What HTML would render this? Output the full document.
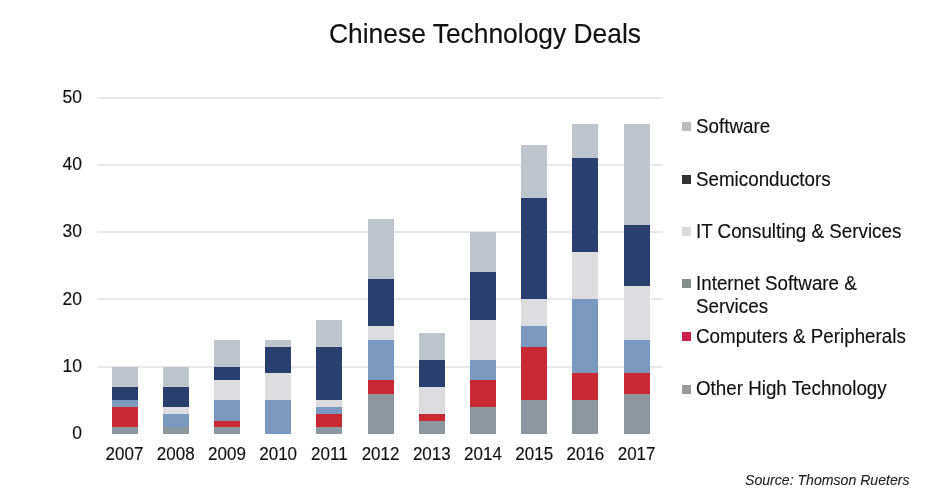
<!DOCTYPE html>
<html><head><meta charset="utf-8"><style>
html,body{margin:0;padding:0;background:#fff;}
#w{position:absolute;left:0;top:0;width:947px;height:501px;filter:blur(0.4px);}
body{width:947px;height:501px;position:relative;overflow:hidden;font-family:"Liberation Sans",sans-serif;color:#111;-webkit-text-stroke:0.15px #111;}
.t{position:absolute;left:329px;top:18px;font-size:26.4px;line-height:31px;white-space:nowrap;transform:scaleY(1.06);transform-origin:0 50%;}
.g{position:absolute;left:97px;width:566px;height:2px;background:#e9e9e9;}
.b{position:absolute;width:26.0px;}
.yr{position:absolute;top:443.8px;transform:scaleY(1.03);width:60px;text-align:center;font-size:17px;line-height:21px;}
.yl{position:absolute;left:40px;transform:scaleY(1.05);width:42px;text-align:right;font-size:17.5px;line-height:21px;}
.lsq{position:absolute;left:682px;width:9px;height:9px;}
.lt{position:absolute;left:696px;font-size:18.8px;line-height:21.7px;white-space:nowrap;transform:scaleY(1.04);transform-origin:0 0;}
.src{position:absolute;left:745px;top:472px;font-size:14.1px;line-height:16px;font-style:italic;white-space:nowrap;color:#222;-webkit-text-stroke:0.1px #222;}
</style></head><body><div id="w">
<div class="t">Chinese Technology Deals</div>
<div class="g" style="top:365.70px"></div>
<div class="g" style="top:298.40px"></div>
<div class="g" style="top:231.10px"></div>
<div class="g" style="top:163.80px"></div>
<div class="g" style="top:96.50px"></div>
<div class="b" style="left:111.54px;top:366.70px;height:67.30px;background:#bec5cc"></div>
<div class="b" style="left:111.54px;top:386.89px;height:47.11px;background:#2b3f6e"></div>
<div class="b" style="left:111.54px;top:400.35px;height:33.65px;background:#7b98bf"></div>
<div class="b" style="left:111.54px;top:407.08px;height:26.92px;background:#c72a32"></div>
<div class="b" style="left:111.54px;top:427.27px;height:6.73px;background:#8c979f"></div>
<div class="yr" style="left:94.54px">2007</div>
<div class="b" style="left:162.75px;top:366.70px;height:67.30px;background:#bec5cc"></div>
<div class="b" style="left:162.75px;top:386.89px;height:47.11px;background:#2b3f6e"></div>
<div class="b" style="left:162.75px;top:407.08px;height:26.92px;background:#dddcdf"></div>
<div class="b" style="left:162.75px;top:413.81px;height:20.19px;background:#7b98bf"></div>
<div class="b" style="left:162.75px;top:427.27px;height:6.73px;background:#8c979f"></div>
<div class="yr" style="left:145.75px">2008</div>
<div class="b" style="left:213.96px;top:339.78px;height:94.22px;background:#bec5cc"></div>
<div class="b" style="left:213.96px;top:366.70px;height:67.30px;background:#2b3f6e"></div>
<div class="b" style="left:213.96px;top:380.16px;height:53.84px;background:#dddcdf"></div>
<div class="b" style="left:213.96px;top:400.35px;height:33.65px;background:#7b98bf"></div>
<div class="b" style="left:213.96px;top:420.54px;height:13.46px;background:#c72a32"></div>
<div class="b" style="left:213.96px;top:427.27px;height:6.73px;background:#8c979f"></div>
<div class="yr" style="left:196.96px">2009</div>
<div class="b" style="left:265.17px;top:339.78px;height:94.22px;background:#bec5cc"></div>
<div class="b" style="left:265.17px;top:346.51px;height:87.49px;background:#2b3f6e"></div>
<div class="b" style="left:265.17px;top:373.43px;height:60.57px;background:#dddcdf"></div>
<div class="b" style="left:265.17px;top:400.35px;height:33.65px;background:#7b98bf"></div>
<div class="yr" style="left:248.17px">2010</div>
<div class="b" style="left:316.38px;top:319.59px;height:114.41px;background:#bec5cc"></div>
<div class="b" style="left:316.38px;top:346.51px;height:87.49px;background:#2b3f6e"></div>
<div class="b" style="left:316.38px;top:400.35px;height:33.65px;background:#dddcdf"></div>
<div class="b" style="left:316.38px;top:407.08px;height:26.92px;background:#7b98bf"></div>
<div class="b" style="left:316.38px;top:413.81px;height:20.19px;background:#c72a32"></div>
<div class="b" style="left:316.38px;top:427.27px;height:6.73px;background:#8c979f"></div>
<div class="yr" style="left:299.38px">2011</div>
<div class="b" style="left:367.59px;top:218.64px;height:215.36px;background:#bec5cc"></div>
<div class="b" style="left:367.59px;top:279.21px;height:154.79px;background:#2b3f6e"></div>
<div class="b" style="left:367.59px;top:326.32px;height:107.68px;background:#dddcdf"></div>
<div class="b" style="left:367.59px;top:339.78px;height:94.22px;background:#7b98bf"></div>
<div class="b" style="left:367.59px;top:380.16px;height:53.84px;background:#c72a32"></div>
<div class="b" style="left:367.59px;top:393.62px;height:40.38px;background:#8c979f"></div>
<div class="yr" style="left:350.59px">2012</div>
<div class="b" style="left:418.80px;top:333.05px;height:100.95px;background:#bec5cc"></div>
<div class="b" style="left:418.80px;top:359.97px;height:74.03px;background:#2b3f6e"></div>
<div class="b" style="left:418.80px;top:386.89px;height:47.11px;background:#dddcdf"></div>
<div class="b" style="left:418.80px;top:413.81px;height:20.19px;background:#c72a32"></div>
<div class="b" style="left:418.80px;top:420.54px;height:13.46px;background:#8c979f"></div>
<div class="yr" style="left:401.80px">2013</div>
<div class="b" style="left:470.01px;top:232.10px;height:201.90px;background:#bec5cc"></div>
<div class="b" style="left:470.01px;top:272.48px;height:161.52px;background:#2b3f6e"></div>
<div class="b" style="left:470.01px;top:319.59px;height:114.41px;background:#dddcdf"></div>
<div class="b" style="left:470.01px;top:359.97px;height:74.03px;background:#7b98bf"></div>
<div class="b" style="left:470.01px;top:380.16px;height:53.84px;background:#c72a32"></div>
<div class="b" style="left:470.01px;top:407.08px;height:26.92px;background:#8c979f"></div>
<div class="yr" style="left:453.01px">2014</div>
<div class="b" style="left:521.22px;top:144.61px;height:289.39px;background:#bec5cc"></div>
<div class="b" style="left:521.22px;top:198.45px;height:235.55px;background:#2b3f6e"></div>
<div class="b" style="left:521.22px;top:299.40px;height:134.60px;background:#dddcdf"></div>
<div class="b" style="left:521.22px;top:326.32px;height:107.68px;background:#7b98bf"></div>
<div class="b" style="left:521.22px;top:346.51px;height:87.49px;background:#c72a32"></div>
<div class="b" style="left:521.22px;top:400.35px;height:33.65px;background:#8c979f"></div>
<div class="yr" style="left:504.22px">2015</div>
<div class="b" style="left:572.43px;top:124.42px;height:309.58px;background:#bec5cc"></div>
<div class="b" style="left:572.43px;top:158.07px;height:275.93px;background:#2b3f6e"></div>
<div class="b" style="left:572.43px;top:252.29px;height:181.71px;background:#dddcdf"></div>
<div class="b" style="left:572.43px;top:299.40px;height:134.60px;background:#7b98bf"></div>
<div class="b" style="left:572.43px;top:373.43px;height:60.57px;background:#c72a32"></div>
<div class="b" style="left:572.43px;top:400.35px;height:33.65px;background:#8c979f"></div>
<div class="yr" style="left:555.43px">2016</div>
<div class="b" style="left:623.64px;top:124.42px;height:309.58px;background:#bec5cc"></div>
<div class="b" style="left:623.64px;top:225.37px;height:208.63px;background:#2b3f6e"></div>
<div class="b" style="left:623.64px;top:285.94px;height:148.06px;background:#dddcdf"></div>
<div class="b" style="left:623.64px;top:339.78px;height:94.22px;background:#7b98bf"></div>
<div class="b" style="left:623.64px;top:373.43px;height:60.57px;background:#c72a32"></div>
<div class="b" style="left:623.64px;top:393.62px;height:40.38px;background:#8c979f"></div>
<div class="yr" style="left:606.64px">2017</div>
<div class="yl" style="top:423.30px">0</div>
<div class="yl" style="top:356.00px">10</div>
<div class="yl" style="top:288.70px">20</div>
<div class="yl" style="top:221.40px">30</div>
<div class="yl" style="top:154.10px">40</div>
<div class="yl" style="top:86.80px">50</div>
<div class="lsq" style="top:121.90px;background:#bbbbbb"></div>
<div class="lt" style="top:115.20px">Software</div>
<div class="lsq" style="top:174.80px;background:#333333"></div>
<div class="lt" style="top:167.80px">Semiconductors</div>
<div class="lsq" style="top:227.30px;background:#dcdcdc"></div>
<div class="lt" style="top:219.80px">IT Consulting &amp; Services</div>
<div class="lsq" style="top:279.30px;background:#85908c"></div>
<div class="lt" style="top:271.80px">Internet Software &amp;<br>Services</div>
<div class="lsq" style="top:332.30px;background:#cc1f50"></div>
<div class="lt" style="top:324.80px">Computers &amp; Peripherals</div>
<div class="lsq" style="top:384.80px;background:#9b9b9b"></div>
<div class="lt" style="top:377.30px">Other High Technology</div>
<div class="src">Source: Thomson Rueters</div>
</div></body></html>
